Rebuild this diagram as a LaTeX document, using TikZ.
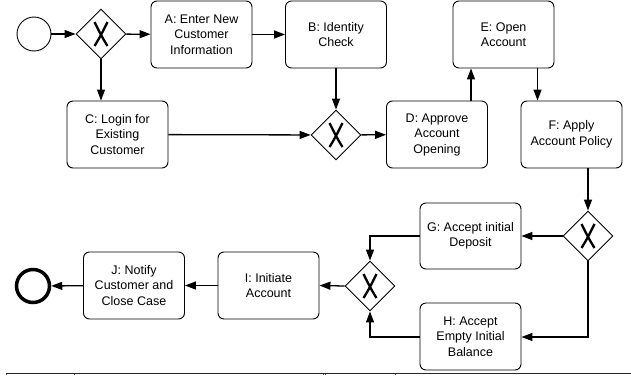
\documentclass[tikz,border=0pt]{standalone}
\usepackage{fontspec}
\setmainfont{Liberation Sans}
\usetikzlibrary{shapes.geometric,arrows.meta}
\begin{document}
\begin{tikzpicture}[x=1pt,y=-1pt,
  task/.style={draw=black,line width=0.9pt,rounded corners=6pt,minimum width=101pt,minimum height=67pt,
    align=center,inner sep=2pt,font=\fontsize{12.5}{15.5}\selectfont},
  gw/.style={draw=black,line width=0.9pt,diamond,minimum width=50pt,minimum height=50pt,inner sep=0pt},
  flow/.style={line width=1.3pt,-{Triangle[length=11pt,width=8pt]}},
  xmark/.style={line width=2.3pt,line cap=butt}
]
\useasboundingbox (0,0) rectangle (631,375);
% events
\node[circle,draw,line width=0.9pt,minimum size=34pt,inner sep=0pt] (start) at (34,34) {};
\node[circle,draw,line width=3.5pt,minimum size=33pt,inner sep=0pt] (end) at (33,286) {};
% gateways
\node[gw] (g1) at (101,34) {};
\node[gw] (g2) at (336,135) {};
\node[gw] (g3) at (588,236) {};
\node[gw] (g4) at (370,286) {};
\foreach \g in {g1,g2,g3,g4}{
  \draw[xmark] ([xshift=-6.5pt,yshift=-12pt]\g.center) .. controls ([xshift=-1pt,yshift=-3pt]\g.center) .. ([xshift=6.5pt,yshift=12pt]\g.center);
  \draw[xmark] ([xshift=6.5pt,yshift=-12pt]\g.center) .. controls ([xshift=1pt,yshift=-3pt]\g.center) .. ([xshift=-6.5pt,yshift=12pt]\g.center);
}
% tasks
\node[task] (A) at (201.5,34.5) {A: Enter New\\Customer\\Information};
\node[task] (B) at (336,34.5) {B: Identity\\Check};
\node[task] (C) at (117.5,134.5) {C: Login for\\Existing\\Customer};
\node[task] (D) at (437,134.5) {D: Approve\\Account\\Opening};
\node[task] (E) at (503.5,34.5) {E: Open\\Account};
\node[task] (F) at (571.5,134.5) {F: Apply\\Account Policy};
\node[task,minimum height=66pt] (G) at (470.5,236) {G: Accept initial\\Deposit};
\node[task] (H) at (470.5,336.5) {H: Accept\\Empty Initial\\Balance};
\node[task] (I) at (268.5,285.5) {I: Initiate\\Account};
\node[task] (J) at (134,285.5) {J: Notify\\Customer and\\Close Case};
% flows
\draw[flow] (start) -- (g1);
\draw[flow] (g1) -- (A);
\draw[flow] (A) -- (B);
\draw[flow] (g1.south) -- (g1.south |- C.north);
\draw[flow] (B) -- (g2);
\draw[flow] (C) -- (g2);
\draw[flow] (g2) -- (D);
\draw[flow] ([xshift=34pt]D.north) -- ([xshift=34pt]D.north |- E.south);
\draw[flow] ([xshift=34pt]E.south) -- ([xshift=34pt]E.south |- F.north);
\draw[flow] (g3.north |- F.south) -- (g3.north);
\draw[flow] (g3.west) -- (G.east);
\draw[flow] (g3.south) |- ([yshift=-0.5pt]H.east);
\draw[flow] (G.west) -| (g4.north);
\draw[flow] ([yshift=-0.5pt]H.west) -| (g4.south);
\draw[flow] (g4.west) -- (I.east);
\draw[flow] (I) -- (J);
\draw[flow] (J) -- (end);
% table edge at the bottom
\draw[line width=0.9pt,black!85] (6,373.5) -- (631,373.5);
\foreach \x in {6.5,74,323,325,395}{\draw[line width=0.6pt,black!70] (\x,373.5) -- (\x,375);}
\end{tikzpicture}
\end{document}
